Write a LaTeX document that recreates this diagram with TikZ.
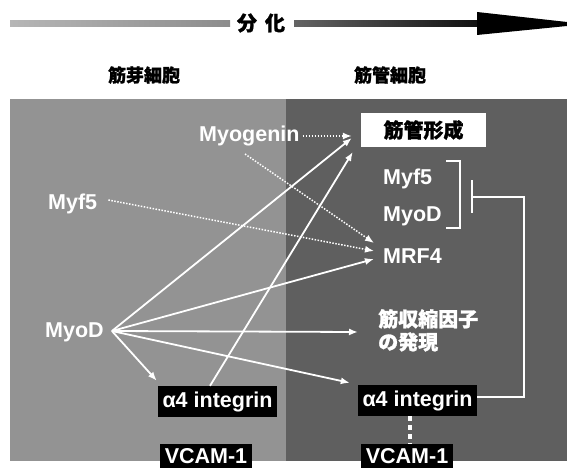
\documentclass[tikz,border=0pt]{standalone}
\usepackage{fontspec}
\setmainfont{Liberation Sans}
\newfontfamily\cjk{Noto Sans CJK JP Black}[FakeBold=1.2]
\usetikzlibrary{arrows.meta}
\definecolor{lpanel}{HTML}{939393}
\definecolor{rpanel}{HTML}{5F5F5F}
\tikzset{
  lbl/.style={text=white,font=\fontsize{21.5}{24}\selectfont\bfseries,inner sep=0pt},
  jlbl/.style={text=white,font=\fontsize{20}{23}\selectfont\cjk,inner sep=0pt,align=left},
  head/.style={text=black,font=\fontsize{18}{20}\selectfont\cjk,inner sep=0pt},
  blackbox/.style={fill=black,text=white,font=\fontsize{21.5}{24}\selectfont\bfseries,inner sep=0pt,minimum height=31pt},
  conn/.style={white,line width=1.8pt,-{Latex[length=9pt,width=7pt]}},
  dconn/.style={white,line width=1.5pt,dash pattern=on 1.5pt off 1.5pt,-{Latex[length=9pt,width=7pt]}},
}
\begin{document}
\begin{tikzpicture}[x=1pt,y=-1pt]
\useasboundingbox (0,0) rectangle (567,468);
% top differentiation arrow
\shade[left color={rgb,255:red,182;green,182;blue,182},right color={rgb,255:red,140;green,140;blue,140}] (10,21) rectangle (230,27);
\shade[left color={rgb,255:red,100;green,100;blue,100},right color={rgb,255:red,15;green,15;blue,15}] (294,21) rectangle (480,27);
\fill[black] (477,12) -- (567,22) -- (567,26) -- (477,35) -- cycle;
\node[head,font=\fontsize{20}{22}\selectfont\cjk] (diff) at (261,23) {分\hspace{8pt}化};
% headings
\node[head] (myoblast) at (144,75) {筋芽細胞};
\node[head] (myotube) at (390,75) {筋管細胞};
% panels
\fill[lpanel] (10,99) rectangle (286,461);
\fill[rpanel] (286,99) rectangle (567,461);
% labels
\node[lbl,anchor=base west] (myog) at (199,141) {Myogenin};
\node[lbl,anchor=base west] (myf5L) at (48,209) {Myf5};
\node[lbl,anchor=base west] (myodL) at (45,337) {MyoD};
\node[lbl,anchor=base west] (myf5R) at (383,184) {Myf5};
\node[lbl,anchor=base west] (myodR) at (383,221) {MyoD};
\node[lbl,anchor=base west] (mrf4) at (383,263) {MRF4};
\node[fill=white,text=black,font=\fontsize{20}{22}\selectfont\cjk,inner sep=0pt,minimum width=125pt,minimum height=34pt] (tube) at (423.5,130) {筋管形成};
\node[jlbl,anchor=north west] (contr) at (378,309) {筋収縮因子\\の発現};
\node[blackbox,minimum width=119pt] (a4L) at (217.5,401.5) {α4 integrin};
\node[blackbox,minimum width=119pt] (a4R) at (417.5,400.5) {α4 integrin};
\node[blackbox,minimum width=92pt,minimum height=24pt] (vcamL) at (206,456) {VCAM-1};
\node[blackbox,minimum width=92pt,minimum height=24pt] (vcamR) at (407,456) {VCAM-1};
\coordinate (myodo) at ([xshift=8pt,yshift=6pt]myodL.base east);
% bracket around Myf5 / MyoD
\draw[white,line width=1.5pt] (446,161) -- (460,161) -- (460,228) -- (446,228);
% inhibition
\coordinate (bar) at (472,197);
\draw[white,line width=2pt] (472,180) -- (472,213);
\draw[white,line width=2pt] ([yshift=3.5pt]a4R.east) -- (524,397) -- (524,197) -- (bar);
% dotted links
\draw[dconn] ([xshift=3pt,yshift=5pt]myog.base east) -- ([xshift=-9pt,yshift=-6pt]tube.west);
\draw[dconn] ([xshift=46pt,yshift=-13pt]myog.base west) -- ([xshift=-9pt,yshift=20pt]mrf4.base west);
\draw[dconn] ([xshift=11pt,yshift=9pt]myf5L.base east) -- ([xshift=-9pt,yshift=12pt]mrf4.base west);
% solid arrows from MyoD
\draw[conn] (myodo) -- ([xshift=-9pt,yshift=-8pt]tube.west);
\draw[conn] (myodo) -- ([xshift=-9pt,yshift=4pt]mrf4.base west);
\draw[conn] (myodo) -- ([xshift=-20pt,yshift=-23pt]contr.north west);
\draw[conn] (myodo) -- ([xshift=-8pt,yshift=2pt]a4R.north west);
\draw[conn] (myodo) -- ([xshift=-1pt,yshift=5pt]a4L.north west);
\draw[conn] ([xshift=-7.5pt]a4L.north) -- ([xshift=-8pt,yshift=-22pt]tube.west);
% VCAM link
\draw[white,line width=4pt,dash pattern=on 5pt off 4pt] ([xshift=-7.5pt]a4R.south) -- (vcamR.north -| 410,0);
\end{tikzpicture}
\end{document}
